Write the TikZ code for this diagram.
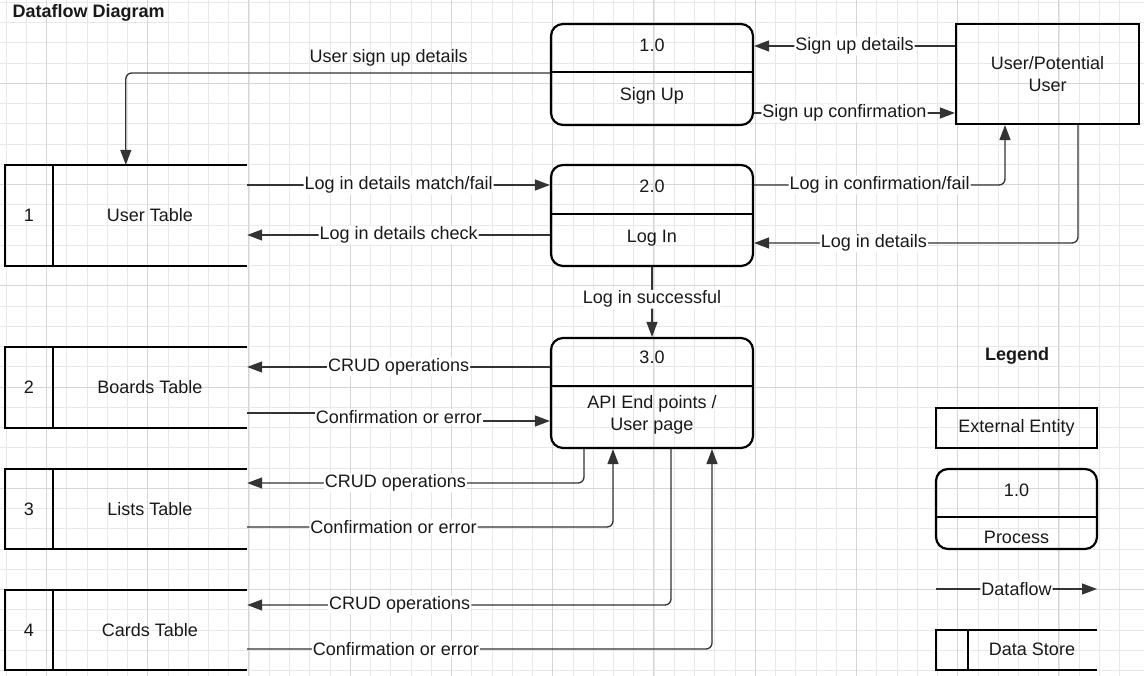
\documentclass[tikz,border=0pt]{standalone}
\usepackage{fontspec}
\setmainfont{Liberation Sans}
\usetikzlibrary{positioning,arrows.meta,calc}
\tikzset{
		>={Triangle[length=15pt,width=11pt]},
			gridminor/.style={draw=black!9, line width=0.8pt},
			gridmajor/.style={draw=black!16, line width=0.9pt},
			proc/.style={draw=black, line width=2.2pt, rounded corners=12pt,
				minimum width=202pt, inner sep=0pt},
			ent/.style={draw=black, line width=2.2pt, align=center, inner sep=0pt},
			store/.style={minimum width=242pt, inner sep=0pt},
			edge/.style={draw=black, line width=2.2pt},
			flow/.style={->, draw=black!80, line width=1.3pt, rounded corners=6pt},
			lbl/.style={fill=white, inner sep=1pt},
			hdr/.style={font=\fontsize{18}{22}\selectfont\bfseries},
		}
\begin{document}
\begin{tikzpicture}
				[x=1pt, y=-1pt,
				font=\fontsize{18}{22}\selectfont,
				every node/.append style={text=black!90}]
				\useasboundingbox[fill=white] (0,0) rectangle (1144,676);
				\foreach \i in {0,...,55}
					\draw[gridminor] ({5.9+20.25*\i},0) -- ({5.9+20.25*\i},676);
				\foreach \j in {0,...,33}
					\draw[gridminor] (0,{2.3+20.25*\j}) -- (1144,{2.3+20.25*\j});
				\foreach \i in {0,...,10}
					\draw[gridmajor] ({46.4+101.25*\i},0) -- ({46.4+101.25*\i},676);
				\foreach \j in {0,...,5}
					\draw[gridmajor] (0,{83.3+101.25*\j}) -- (1144,{83.3+101.25*\j});

				\node[hdr, anchor=west] (title) at (9,13) {Dataflow Diagram};

				% processes
				\node[proc, minimum height=101pt] (p1) at (652,74.5) {};
				\draw[edge] (p1.west |- 0,72) -- (p1.east |- 0,72);
				\node (p1id) at (652,45) {1.0};
				\node (p1nm) at (652,96) {Sign Up};

				\node[proc, minimum height=101pt] (p2) at (652,215.5) {};
				\draw[edge] (p2.west |- 0,214) -- (p2.east |- 0,214);
				\node (p2id) at (652,186) {2.0};
				\node (p2nm) at (652,238) {Log In};

				\node[proc, minimum height=110pt] (p3) at (652,393) {};
				\draw[edge] (p3.west |- 0,386) -- (p3.east |- 0,386);
				\node (p3id) at (652,357) {3.0};
				\node[align=center] (p3nm) at (652,415) {API End points /\\User page};

				\node[ent, minimum width=183pt, minimum height=100pt] (user) at (1047.5,74) {User/Potential\\User};

				% data stores
				\foreach \sid/\yc/\hgt/\nm in {1/215.5/101/User Table, 2/387.5/81/Boards Table,
						3/509/80/Lists Table, 4/630/80/Cards Table}{
					\node[store, minimum height=\hgt pt] (t\sid) at (126,\yc) {};
					\draw[edge] (t\sid.north east) -- (t\sid.north west) -- (t\sid.south west) -- (t\sid.south east);
					\draw[edge] ([xshift=48pt]t\sid.north west) -- ([xshift=48pt]t\sid.south west);
					\node (t\sid id) at ([xshift=24pt]t\sid.west) {\sid};
					\node (t\sid nm) at ([xshift=145pt]t\sid.west) {\nm};
				}

				% flows
				\draw[flow] (p1.west |- 0,73) -| node[pos=0.19, above=3pt] {User sign up details} ([xshift=121pt]t1.north west);
				\draw[flow] (user.west |- 0,46) -- node[lbl] {Sign up details} (p1.east |- 0,46);
				\draw[flow] (p1.east |- 0,113) -- node[lbl, pos=0.45] {Sign up confirmation} (user.west |- 0,113);
				\draw[flow] (t1.east |- 0,185) -- node[lbl] {Log in details match/fail} (p2.west |- 0,185);
				\draw[flow] (p2.west |- 0,235) -- node[lbl] {Log in details check} (t1.east |- 0,235);
				\draw[flow] (p2.east |- 0,185) -| node[lbl, pos=0.25] {Log in confirmation/fail} (user.south -| 1005,0);
				\draw[flow] (user.south -| 1078,0) |- node[lbl, pos=0.815] {Log in details} (p2.east |- 0,243);
				\draw[flow] (p2.south) -- node[lbl, pos=0.46] {Log in successful} (p3.north);

				\draw[flow] (p3.west |- 0,367) -- node[lbl] {CRUD operations} (t2.east |- 0,367);
				\draw[flow, rounded corners=0pt] (t2.east |- 0,413) -- (399,413)
					-- node[lbl] {Confirmation or error} (399,421) -- (p3.west |- 0,421);
				\draw[flow] (p3.south -| 584,0) |- node[lbl, pos=0.78] {CRUD operations} (t3.east |- 0,483);
				\draw[flow] (t3.east |- 0,527) -| node[lbl, pos=0.2] {Confirmation or error} (p3.south -| 613,0);
				\draw[flow] (p3.south -| 671,0) |- node[lbl, pos=0.82] {CRUD operations} (t4.east |- 0,605);
				\draw[flow] (t4.east |- 0,649) -| node[lbl, pos=0.16] {Confirmation or error} (p3.south -| 712,0);

				% legend
				\node[hdr] (lghdr) at (1017,356) {Legend};
				\node[ent, minimum width=161pt, minimum height=40pt] (lgext) at (1016.5,428) {External Entity};
				\node[proc, minimum width=161pt, minimum height=80pt] (lgproc) at (1016.5,509) {};
				\draw[edge] (lgproc.west |- 0,517) -- (lgproc.east |- 0,517);
				\node (lgprocid) at (1016.5,490) {1.0};
				\node (lgprocnm) at (1016.5,537) {Process};
				\coordinate (lgfa) at (936,589);
				\coordinate (lgfb) at (1097,589);
				\draw[flow] (lgfa) -- node[lbl] {Dataflow} (lgfb);
				\node[store, minimum width=161pt, minimum height=40pt] (lgst) at (1016.5,650) {};
				\draw[edge] (lgst.north east) -- (lgst.north west) -- (lgst.south west) -- (lgst.south east);
				\draw[edge] ([xshift=32pt]lgst.north west) -- ([xshift=32pt]lgst.south west);
				\node (lgstnm) at (1032,649) {Data Store};

			\end{tikzpicture}
\end{document}
